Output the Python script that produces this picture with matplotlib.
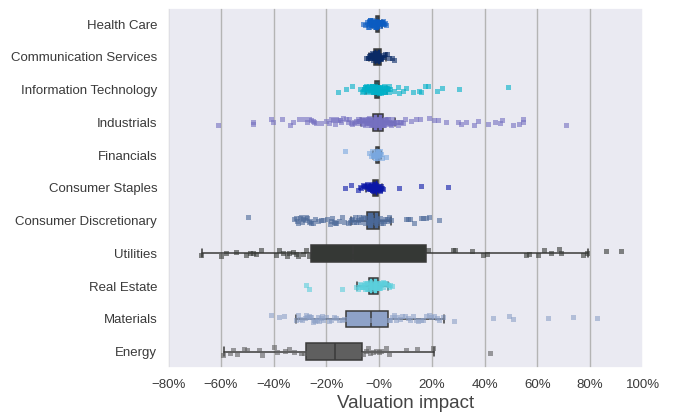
import numpy as np
import pandas as pd
import matplotlib
matplotlib.use("Agg")
import matplotlib.pyplot as plt
from matplotlib.ticker import PercentFormatter
import seaborn as sns

sectors = ["Health Care", "Communication Services", "Information Technology",
           "Industrials", "Financials", "Consumer Staples",
           "Consumer Discretionary", "Utilities", "Real Estate", "Materials",
           "Energy"]

colors = ["#0b5cc2", "#0a2a66", "#00b0c8", "#7570c0", "#7aa8e0", "#0a16a8",
          "#4a6898", "#353835", "#5bcfdc", "#8ea2c8", "#5f5f5f"]

# valuation impact per company
health_care = [-0.058, -0.05, -0.045, -0.042, -0.04, -0.038, -0.037, -0.035,
               -0.034, -0.032, -0.031, -0.03, -0.029, -0.028, -0.027, -0.026,
               -0.025, -0.024, -0.023, -0.022, -0.021, -0.02, -0.019, -0.018,
               -0.017, -0.016, -0.015, -0.014, -0.013, -0.012, -0.011, -0.01,
               -0.009, -0.008, -0.007, -0.006, -0.005, -0.004, -0.003, -0.002,
               -0.001, 0.0, 0.001, 0.002, 0.003, 0.004, 0.005, 0.006, 0.008,
               0.01, 0.012, 0.014, 0.016, 0.018, 0.02, 0.024, 0.028]
communication = [-0.046, -0.042, -0.04, -0.036, -0.034, -0.032, -0.03, -0.028,
                 -0.027, -0.025, -0.024, -0.022, -0.021, -0.02, -0.019, -0.018,
                 -0.017, -0.016, -0.015, -0.014, -0.013, -0.012, -0.011, -0.01,
                 -0.009, -0.008, -0.007, -0.006, -0.005, -0.004, -0.003, -0.002,
                 -0.001, 0.0, 0.002, 0.004, 0.006, 0.008, 0.01, 0.013, 0.017,
                 0.021, 0.025, 0.03, 0.038, 0.05, 0.06]
info_tech = [-0.153, -0.124, -0.101, -0.07, -0.063, -0.06, -0.057, -0.055,
             -0.052, -0.05, -0.048, -0.046, -0.044, -0.042, -0.04, -0.038,
             -0.036, -0.035, -0.033, -0.032, -0.03, -0.029, -0.028, -0.027,
             -0.026, -0.025, -0.024, -0.023, -0.022, -0.021, -0.02, -0.019,
             -0.018, -0.017, -0.016, -0.015, -0.014, -0.013, -0.012, -0.011,
             -0.01, -0.009, -0.008, -0.007, -0.006, -0.005, -0.004, -0.003,
             -0.002, -0.001, 0.0, 0.001, 0.002, 0.003, 0.004, 0.005, 0.006,
             0.008, 0.01, 0.012, 0.014, 0.016, 0.018, 0.02, 0.022, 0.024,
             0.026, 0.028, 0.03, 0.033, 0.035, 0.038, 0.04, 0.044, 0.06, 0.072,
             0.078, 0.091, 0.104, 0.132, 0.154, 0.162, 0.177, 0.187, 0.223,
             0.24, 0.306, 0.489]
industrials = [-0.61, -0.476, -0.476, -0.408, -0.40, -0.367, -0.335, -0.325,
               -0.301, -0.282, -0.27, -0.265, -0.258, -0.25, -0.245, -0.238,
               -0.219, -0.20, -0.187, -0.18, -0.172, -0.165, -0.16, -0.155,
               -0.148, -0.143, -0.137, -0.124, -0.118, -0.112, -0.105, -0.1,
               -0.095, -0.09, -0.085, -0.08, -0.076, -0.073, -0.07, -0.066,
               -0.062, -0.06, -0.058, -0.055, -0.052, -0.05, -0.049, -0.046,
               -0.045, -0.043, -0.04, -0.039, -0.038, -0.036, -0.035, -0.034,
               -0.032, -0.031, -0.03, -0.028, -0.027, -0.026, -0.024, -0.023,
               -0.022, -0.02, -0.019, -0.018, -0.016, -0.015, -0.014, -0.012,
               -0.011, -0.01, -0.008, -0.007, -0.006, -0.004, -0.003, -0.002,
               0.0, 0.001, 0.002, 0.004, 0.005, 0.006, 0.008, 0.009, 0.01,
               0.012, 0.013, 0.014, 0.016, 0.017, 0.018, 0.02, 0.021, 0.023,
               0.025, 0.026, 0.029, 0.03, 0.032, 0.035, 0.037, 0.038, 0.042,
               0.044, 0.046, 0.05, 0.053, 0.055, 0.06, 0.065, 0.07, 0.075,
               0.08, 0.086, 0.092, 0.1, 0.123, 0.142, 0.157, 0.192, 0.211,
               0.224, 0.256, 0.303, 0.313, 0.332, 0.363, 0.376, 0.414, 0.443,
               0.461, 0.468, 0.511, 0.534, 0.549, 0.549, 0.709]
financials = [-0.128, -0.038, -0.03, -0.025, -0.022, -0.02, -0.018, -0.016,
              -0.014, -0.013, -0.012, -0.01, -0.009, -0.008, -0.007, -0.006,
              -0.005, -0.004, -0.003, -0.002, -0.001, 0.0, 0.002, 0.004,
              0.006, 0.008, 0.012, 0.028]
staples = [-0.128, -0.104, -0.077, -0.072, -0.065, -0.06, -0.055, -0.05,
           -0.047, -0.045, -0.042, -0.04, -0.038, -0.036, -0.034, -0.032,
           -0.031, -0.03, -0.029, -0.028, -0.027, -0.026, -0.025, -0.024,
           -0.023, -0.022, -0.021, -0.02, -0.019, -0.018, -0.017, -0.016,
           -0.015, -0.014, -0.013, -0.012, -0.011, -0.01, -0.009, -0.008,
           -0.007, -0.006, -0.005, -0.004, -0.003, -0.002, 0.0, 0.002, 0.004,
           0.006, 0.008, 0.01, 0.012, 0.015, 0.078, 0.162, 0.265]
discretionary = [-0.496, -0.32, -0.315, -0.31, -0.305, -0.30, -0.295, -0.29,
                 -0.285, -0.28, -0.275, -0.27, -0.265, -0.26, -0.255, -0.25,
                 -0.24, -0.23, -0.22, -0.21, -0.194, -0.185, -0.18, -0.175,
                 -0.17, -0.165, -0.16, -0.15, -0.14, -0.13, -0.118, -0.11,
                 -0.105, -0.1, -0.095, -0.09, -0.085, -0.08, -0.075, -0.07,
                 -0.065, -0.06, -0.055, -0.05, -0.045, -0.04, -0.035, -0.03,
                 -0.025, -0.02, -0.015, -0.01, -0.005, 0.0, 0.005, 0.01, 0.015,
                 0.02, 0.025, 0.03, 0.035, 0.04, 0.046, 0.104, 0.11, 0.12,
                 0.135, 0.16, 0.17, 0.18, 0.19, 0.23]
utilities = [-0.673, -0.597, -0.58, -0.542, -0.504, -0.489, -0.478, -0.466,
             -0.447, -0.39, -0.377, -0.362, -0.347, -0.339, -0.326, -0.314,
             -0.304, -0.288, -0.276, -0.266, -0.2, -0.15, -0.1, -0.05, 0.0,
             0.05, 0.1, 0.15, 0.186, 0.281, 0.291, 0.354, 0.397, 0.41, 0.559,
             0.569, 0.605, 0.629, 0.654, 0.686, 0.69, 0.777, 0.791, 0.863,
             0.918]
real_estate = [-0.276, -0.263, -0.139, -0.086, -0.08, -0.075, -0.07, -0.065,
               -0.062, -0.06, -0.057, -0.055, -0.052, -0.05, -0.048, -0.045,
               -0.043, -0.04, -0.038, -0.036, -0.034, -0.032, -0.03, -0.028,
               -0.026, -0.025, -0.023, -0.022, -0.02, -0.019, -0.017, -0.016,
               -0.014, -0.013, -0.011, -0.01, -0.008, -0.007, -0.005, -0.004,
               -0.002, 0.0, 0.003, 0.005, 0.008, 0.01, 0.013, 0.015, 0.018,
               0.02, 0.025, 0.03, 0.035, 0.04, 0.045, 0.05]
materials = [-0.408, -0.377, -0.358, -0.314, -0.305, -0.30, -0.29, -0.28,
             -0.275, -0.27, -0.265, -0.26, -0.255, -0.25, -0.245, -0.24,
             -0.235, -0.23, -0.225, -0.22, -0.215, -0.21, -0.2, -0.19, -0.18,
             -0.17, -0.16, -0.15, -0.14, -0.13, -0.1, -0.06, -0.03, 0.0, 0.04,
             0.045, 0.05, 0.06, 0.065, 0.07, 0.08, 0.09, 0.1, 0.11, 0.12, 0.13,
             0.14, 0.15, 0.16, 0.17, 0.18, 0.19, 0.2, 0.21, 0.22, 0.23, 0.246,
             0.286, 0.435, 0.496, 0.511, 0.644, 0.739, 0.83]
energy = [-0.589, -0.565, -0.554, -0.538, -0.51, -0.501, -0.453, -0.441,
          -0.396, -0.387, -0.354, -0.339, -0.32, -0.295, -0.282, -0.2, -0.15,
          -0.1, -0.058, -0.048, -0.042, -0.033, -0.023, -0.01, 0.0, 0.009,
          0.028, 0.038, 0.104, 0.146, 0.208, 0.424]

values = [health_care, communication, info_tech, industrials, financials,
          staples, discretionary, utilities, real_estate, materials, energy]

# box statistics
q1 = [-0.012, -0.02, -0.015, -0.025, -0.01, -0.025, -0.046, -0.259, -0.039,
      -0.124, -0.276]
med = [-0.006, -0.008, -0.007, -0.006, -0.005, -0.015, -0.02, -0.099, -0.022,
       -0.029, -0.166]
q3 = [-0.001, 0.008, 0.0, 0.013, -0.002, -0.004, -0.001, 0.178, -0.004,
      0.034, -0.066]
whislo = [-0.028, -0.04, -0.05, -0.07, -0.022, -0.05, -0.106, -0.673, -0.084,
          -0.314, -0.589]
whishi = [0.012, 0.025, 0.03, 0.06, 0.008, 0.012, 0.046, 0.794, 0.035, 0.246,
          0.208]

df = pd.DataFrame({
    "sector": [s for s, v in zip(sectors, values) for _ in v],
    "impact": [x for v in values for x in v],
})
palette = dict(zip(sectors, colors))

sns.set_theme(style="darkgrid")
plt.rcParams["font.family"] = ["Liberation Sans", "DejaVu Sans"]
np.random.seed(3)

fig, ax = plt.subplots(figsize=(6.73, 4.12), dpi=100)

stats = [dict(q1=a, med=m, q3=b, whislo=lo, whishi=hi)
         for a, m, b, lo, hi in zip(q1, med, q3, whislo, whishi)]
line = dict(color="#3a3a3a", linewidth=1.1)
bp = ax.bxp(stats, positions=range(len(sectors)), orientation="horizontal",
            widths=0.5, patch_artist=True, showfliers=False,
            manage_ticks=False, boxprops=dict(edgecolor="#3a3a3a", linewidth=1.1),
            whiskerprops=line, capprops=line, medianprops=line, zorder=2)
for patch, c in zip(bp["boxes"], colors):
    patch.set_facecolor(c)

sns.stripplot(data=df, x="impact", y="sector", hue="sector", order=sectors,
              palette=palette, marker="s", size=3.6, alpha=0.6, jitter=0.11,
              linewidth=0, legend=False, ax=ax, zorder=3)

ax.set_xlim(-0.8, 1.0)
ax.set_ylim(10.5, -0.5)
ax.xaxis.set_major_formatter(PercentFormatter(1.0, decimals=0))
ax.set_xticks(np.arange(-0.8, 1.01, 0.2))
ax.grid(False)
ax.xaxis.grid(True, color="#b4b4b4", linewidth=1)
ax.set_axisbelow(True)
ax.set_ylabel("")
ax.set_xlabel("Valuation impact", fontsize=13.5, color="#444444", labelpad=3)
ax.tick_params(axis="both", labelsize=9.5, colors="#3a3a3a", length=0)
ax.tick_params(axis="y", pad=8)
ax.tick_params(axis="x", pad=8)

fig.subplots_adjust(left=0.25, right=0.955, top=0.981, bottom=0.107)
fig.savefig("out.png", dpi=100)
